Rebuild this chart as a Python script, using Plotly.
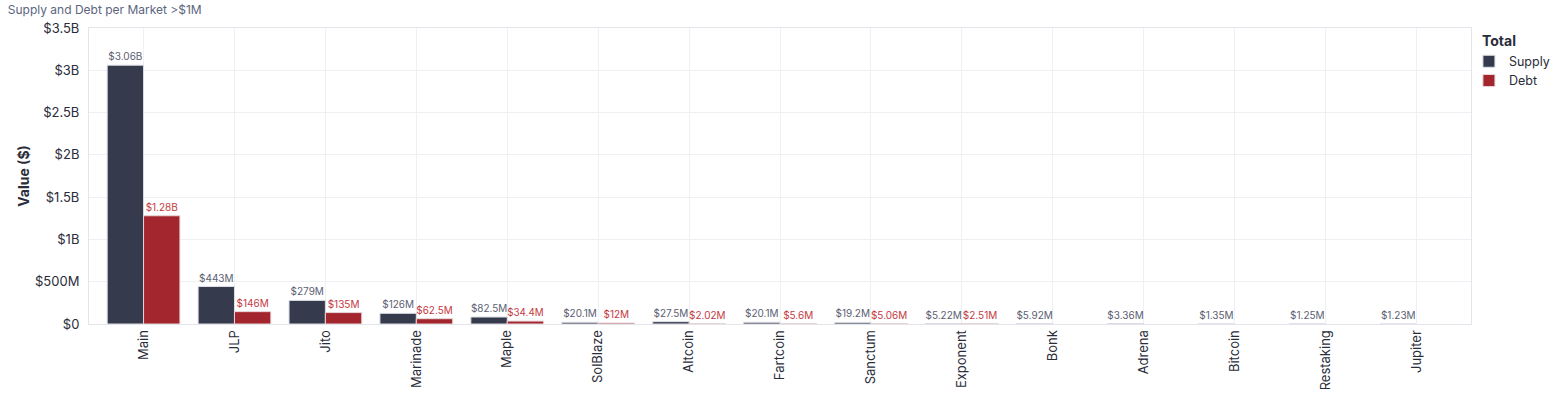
import plotly.graph_objects as go

markets = ["Main", "JLP", "Jito", "Marinade", "Maple", "SolBlaze", "Altcoin", "Fartcoin",
           "Sanctum", "Exponent", "Bonk", "Adrena", "Bitcoin", "Restaking", "Jupiter"]
supply = [3.06e9, 443e6, 279e6, 126e6, 82.5e6, 20.1e6, 27.5e6, 20.1e6,
          19.2e6, 5.22e6, 5.92e6, 3.36e6, 1.35e6, 1.25e6, 1.23e6]
debt = [1.28e9, 146e6, 135e6, 62.5e6, 34.4e6, 12e6, 2.02e6, 5.6e6,
        5.06e6, 2.51e6, None, None, None, None, None]
y_tickvals = [0, 0.5e9, 1e9, 1.5e9, 2e9, 2.5e9, 3e9, 3.5e9]
y_ticktext = ["$0", "$500M", "$1B", "$1.5B", "$2B", "$2.5B", "$3B", "$3.5B"]


def fmt(v):
    if v is None:
        return ""
    if v >= 1e9:
        n, s = v / 1e9, "B"
    elif v >= 1e6:
        n, s = v / 1e6, "M"
    else:
        n, s = v / 1e3, "K"
    if n >= 100:
        t = f"{n:.0f}"
    elif n >= 10:
        t = f"{n:.1f}"
    else:
        t = f"{n:.2f}"
    if "." in t:
        t = t.rstrip("0").rstrip(".")
    return f"${t}{s}"


FONT = "Inter, 'Open Sans', sans-serif"
SUPPLY_C = "#363a4d"
DEBT_C = "#a3262e"

fig = go.Figure()
fig.add_trace(go.Bar(
    name="Supply", x=markets, y=supply,
    marker=dict(color=SUPPLY_C, line=dict(color="#dcdee5", width=1)),
    text=[fmt(v) for v in supply], textposition="outside",
    textfont=dict(size=10, color="#5b6072", family=FONT),
    cliponaxis=False,
))
fig.add_trace(go.Bar(
    name="Debt", x=markets, y=debt,
    marker=dict(color=DEBT_C, line=dict(color="#e6d6d8", width=1)),
    text=[fmt(v) for v in debt], textposition="outside",
    textfont=dict(size=10, color="#c43a42", family=FONT),
    cliponaxis=False,
))

fig.add_annotation(
    text="<b>Total</b>", xref="paper", yref="paper", x=1.0065, y=0.959,
    xanchor="left", yanchor="middle", showarrow=False,
    font=dict(size=14, color="#2a2d3a", family=FONT),
)

fig.update_layout(
    width=1555, height=397,
    margin=dict(l=89, r=84, t=28, b=73, autoexpand=False),
    paper_bgcolor="white", plot_bgcolor="white",
    font=dict(family=FONT, color="#2a2d3a", size=13),
    barmode="group", bargap=0.2, bargroupgap=0,
    title=dict(text="Supply and Debt per Market >$1M", x=0.005, xanchor="left",
               y=0.985, yanchor="top",
               font=dict(size=12, color="#5b6580", family=FONT)),
    legend=dict(
        x=0.9985, xanchor="left", y=0.937, yanchor="top",
        font=dict(size=12.5, color="#2a2d3a"),
        bgcolor="rgba(0,0,0,0)",
        itemwidth=30, tracegroupgap=0,
    ),
    xaxis=dict(
        range=[-0.6, 14.6], automargin=False,
        tickangle=-90, tickfont=dict(size=13, color="#2a2d3a"),
        showgrid=True, gridcolor="#eef0f4",
        showline=True, linecolor="#e3e5eb", mirror=True,
        ticks="",
    ),
    yaxis=dict(
        range=[0, 3.5e9], automargin=False,
        tickvals=y_tickvals, ticktext=y_ticktext,
        tickfont=dict(size=13, color="#2a2d3a"),
        showgrid=True, gridcolor="#eef0f4",
        showline=True, linecolor="#e3e5eb", mirror=True,
        zeroline=False,
        title=dict(text="<b>Value ($)</b>", font=dict(size=14, color="#2a2d3a"), standoff=2),
        ticks="outside", ticklen=6, tickcolor="white",
    ),
)

fig.write_html("out.html")
